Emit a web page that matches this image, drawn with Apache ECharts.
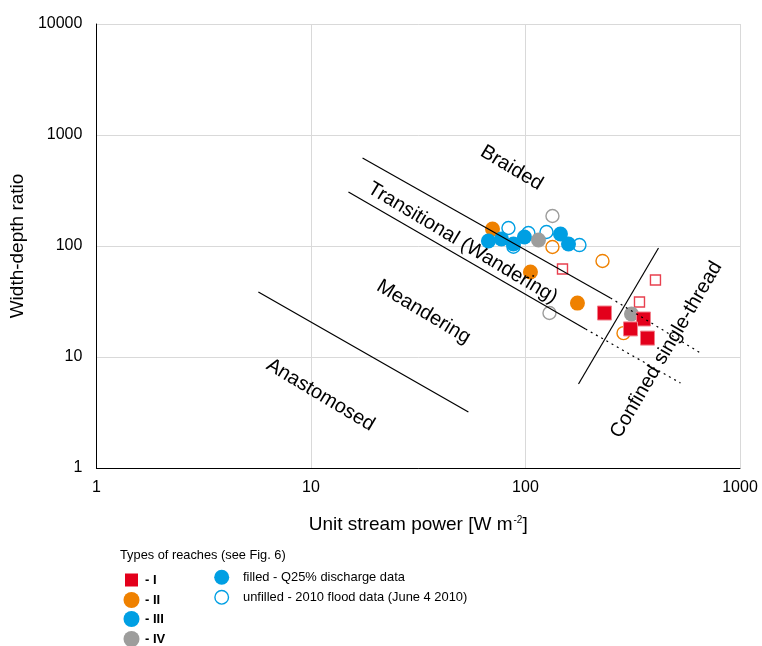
<!DOCTYPE html>
<html><head><meta charset="utf-8">
<script src="https://cdn.jsdelivr.net/npm/echarts@6/dist/echarts.min.js"></script>
<style>html,body{margin:0;padding:0;background:#fff}#c{width:762px;height:646px}</style>
</head><body><div id="c"></div>
<script>
// ---- data ----
const xTickLabels = ['1', '10', '100', '1000'];
const yTickLabels = ['1', '10', '100', '1000', '10000'];
// Type I (red squares)
const typeI_Q25 = [[233.5, 24.9], [354.8, 22.0], [308.8, 17.9], [370.5, 14.8]];
const typeI_2010 = [[148.8, 62.1], [403.6, 49.4], [340, 31.3]];
// Type II (orange)
const typeII_Q25 = [[70.2, 142.3], [105.5, 58.3], [174.7, 30.6]];
const typeII_2010 = [[133.6, 97.9], [228.6, 73.3], [286.4, 16.4]];
// Type III (blue)
const typeIII_Q25 = [[67.2, 110.9], [77.3, 115.7], [87.9, 104.2], [98.9, 120.5], [145.6, 128.3], [158.7, 104.2]];
const typeIII_2010 = [[83.3, 145.3], [87.9, 98.6], [103.2, 131], [125.3, 133.7], [178.5, 102]];
// Type IV (grey)
const typeIV_Q25 = [[115, 113.2], [312, 24.4]];
const typeIV_2010 = [[133.6, 186.3], [129.4, 24.9]];
// boundary lines
const braidedSolid = [[17.4, 620.6], [249, 34.0]];
const braidedDotted = [[249, 34.0], [654.5, 10.87]];
const meanderSolid = [[14.96, 306.6], [190.5, 17.9]];
const meanderDotted = [[190.5, 17.9], [528, 5.83]];
const anastoLine = [[5.69, 38.5], [54.2, 3.20]];
const confinedLine = [[176.7, 5.71], [417, 95.9]];
// region labels: [x, y, text, rotate]
const regionLabels = [
  [86.1, 504, 'Braided', -31],
  [50.9, 106.4, 'Transitional (Wandering)', -31],
  [33.5, 25.4, 'Meandering', -31],
  [11.07, 4.55, 'Anastomosed', -31],
  [454, 11.6, 'Confined single-thread', 59.5]
];
// legend texts
const legendTitle = 'Types of reaches (see Fig. 6)';
const legendTypes = ['- I', '- II', '- III', '- IV'];
const legendFill = ['filled - Q25% discharge data', 'unfilled - 2010 flood data (June 4 2010)'];

// ---- styles ----
const RED = '#E3001B', ORANGE = '#EF8100', BLUE = '#009FE3', GREY = '#9D9D9C';
const FONT = 'Liberation Sans, Arial, sans-serif';

function filled(data, color, symbol, size, z) {
  return { type: 'scatter', data, symbol, symbolSize: size, z,
    itemStyle: { color, borderColor: symbol === 'rect' ? '#F2808C' : color, borderWidth: symbol === 'rect' ? 1 : 0, opacity: 1 } };
}
function hollow(data, color, symbol, size, z) {
  return { type: 'scatter', data, symbol, symbolSize: size, z,
    itemStyle: { color: 'rgba(255,255,255,0)', borderColor: color, borderWidth: 1.4, opacity: 1 } };
}
function line(data, dotted) {
  return { type: 'line', data, symbol: 'none', z: 5, silent: true,
    lineStyle: { color: '#000', width: 1.2, type: dotted ? [2, 4] : 'solid' } };
}

const chart = echarts.init(document.getElementById('c'), null, { renderer: 'canvas' });

const legendGraphics = [];
legendGraphics.push({ type: 'text', x: 120, y: 555, style: { text: legendTitle, font: '12.8px ' + FONT, fill: '#000', verticalAlign: 'middle' } });
const typeColors = [RED, ORANGE, BLUE, GREY];
const rowY = [580, 600, 619, 639];
typeColors.forEach((c, i) => {
  if (i === 0) legendGraphics.push({ type: 'rect', shape: { x: 125, y: rowY[i] - 6.5, width: 13, height: 13 }, style: { fill: c } });
  else legendGraphics.push({ type: 'circle', shape: { cx: 131.5, cy: rowY[i], r: 8 }, style: { fill: c } });
  legendGraphics.push({ type: 'text', x: 145, y: rowY[i], style: { text: legendTypes[i], font: 'bold 13px ' + FONT, fill: '#000', verticalAlign: 'middle' } });
});
legendGraphics.push({ type: 'circle', shape: { cx: 221.7, cy: 577.3, r: 7.5 }, style: { fill: BLUE } });
legendGraphics.push({ type: 'circle', shape: { cx: 221.7, cy: 597.3, r: 6.8 }, style: { fill: 'none', stroke: BLUE, lineWidth: 1.4 } });
legendGraphics.push({ type: 'text', x: 243, y: 577, style: { text: legendFill[0], font: '12.9px ' + FONT, fill: '#000', verticalAlign: 'middle' } });
legendGraphics.push({ type: 'text', x: 243, y: 597, style: { text: legendFill[1], font: '12.9px ' + FONT, fill: '#000', verticalAlign: 'middle' } });

const option = {
  animation: false,
  backgroundColor: '#fff',
  grid: { left: 96, right: 22, top: 24, bottom: 178, containLabel: false },
  xAxis: {
    type: 'log', logBase: 10, min: 1, max: 1000,
    name: 'Unit stream power [W m{sup|-2}]', nameLocation: 'middle', nameGap: 47,
    nameTextStyle: { fontFamily: FONT, fontSize: 19, color: '#000',
      rich: { sup: { fontSize: 10, verticalAlign: 'top', lineHeight: 10, padding: [0, 0, 12, 1], fontFamily: FONT } } },
    axisLine: { show: true, lineStyle: { color: '#000', width: 1 } },
    axisTick: { show: false },
    axisLabel: { fontFamily: FONT, fontSize: 16, color: '#000', margin: 12,
      formatter: v => xTickLabels[Math.round(Math.log10(v))] },
    splitLine: { show: true, lineStyle: { color: '#D9D9D9', width: 1 } }
  },
  yAxis: {
    type: 'log', logBase: 10, min: 1, max: 10000,
    name: 'Width-depth ratio', nameLocation: 'middle', nameGap: 52,
    nameTextStyle: { fontFamily: FONT, fontSize: 19, color: '#000' },
    axisLine: { show: true, lineStyle: { color: '#000', width: 1 } },
    axisTick: { show: false },
    axisLabel: { fontFamily: FONT, fontSize: 16, color: '#000', margin: 14,
      formatter: v => yTickLabels[Math.round(Math.log10(v))] },
    splitLine: { show: true, lineStyle: { color: '#D9D9D9', width: 1 } }
  },
  series: [
    hollow(typeIII_2010, BLUE, 'circle', 13, 2),
    hollow(typeII_2010, ORANGE, 'circle', 13, 2),
    hollow(typeIV_2010, GREY, 'circle', 13, 2),
    hollow(typeI_2010, '#E8404F', 'rect', 10, 2),
    filled(typeII_Q25, ORANGE, 'circle', 15, 3),
    filled(typeIII_Q25, BLUE, 'circle', 15, 3),
    filled(typeIV_Q25, GREY, 'circle', 15, 3),
    filled(typeI_Q25, RED, 'rect', 14, 3),
    line(braidedSolid, false), line(braidedDotted, true),
    line(meanderSolid, false), line(meanderDotted, true),
    line(anastoLine, false), line(confinedLine, false),
    { type: 'scatter', symbolSize: 0, silent: true, z: 6,
      itemStyle: { color: 'rgba(0,0,0,0)' },
      data: regionLabels.map(r => ({ value: [r[0], r[1]],
        label: { show: true, position: 'inside', formatter: r[2], rotate: r[3], opacity: 1,
          fontFamily: FONT, fontSize: 20, color: '#000', textBorderWidth: 0, textBorderColor: 'transparent' } })) }
  ],
  graphic: legendGraphics
};
chart.setOption(option);
</script></body></html>
